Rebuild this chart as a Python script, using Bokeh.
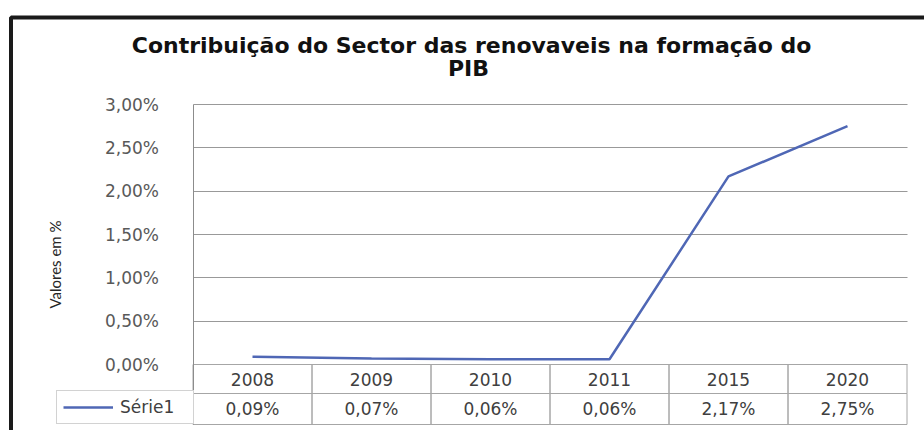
from bokeh.plotting import figure
from bokeh.models import Range1d, FixedTicker, Legend, LegendItem
from bokeh.core.properties import value
from bokeh.embed import file_html
from bokeh.resources import INLINE

# ---- data ----
years = ["2008", "2009", "2010", "2011", "2015", "2020"]
values = [0.09, 0.07, 0.06, 0.06, 2.17, 2.75]
value_labels = ["0,09%", "0,07%", "0,06%", "0,06%", "2,17%", "2,75%"]
y_ticks = [0, 0.5, 1, 1.5, 2, 2.5, 3]
y_tick_labels = ["0,00%", "0,50%", "1,00%", "1,50%", "2,00%", "2,50%", "3,00%"]
series_name = "Série1"
title_lines = ["Contribuição do Sector das renovaveis na formação do", "PIB"]
y_label = "Valores em %"

# ---- pixel <-> data mapping for the full-canvas frame ----
W, H = 924, 430
X0, DX = 252.0, 119.0          # pixel of first category centre, pixels per category
Y0, DY = 364.0, 260.0 / 3.0    # pixel of the zero line, pixels per 1 %


def X(px):
    return (px - X0) / DX


def Y(py):
    return (Y0 - py) / DY


HEADER_BOTTOM = Y(393)
TABLE_BOTTOM = Y(424)

idx = list(range(len(years)))

p = figure(width=W, height=H,
           x_range=Range1d(X(0), X(W)), y_range=Range1d(Y(H), Y(0)),
           x_axis_location=None,
           output_backend="svg", toolbar_location=None,
           min_border=0, min_border_left=0, min_border_right=0,
           min_border_top=0, min_border_bottom=0)
p.background_fill_color = "white"
p.border_fill_color = "white"
p.outline_line_color = None
p.xgrid.visible = False

# outer chart border
p.quad(left=[X(10.5)], right=[X(3000)], top=[Y(17)], bottom=[Y(3000)],
       fill_color=None, line_color="#1a1a1a", line_width=4)

# title
p.text(x=[X(471), X(468)], y=[Y(45), Y(68)], text=title_lines,
       text_align="center", text_baseline="middle",
       text_font=value("DejaVu Sans"), text_font_style="bold",
       text_font_size="22px", text_color="#111111")

# y axis placed at the left edge of the plot area
p.yaxis.fixed_location = -0.5
p.yaxis.bounds = (TABLE_BOTTOM, 3.0)
p.yaxis.ticker = FixedTicker(ticks=y_ticks)
p.yaxis.major_label_overrides = {t: l for t, l in zip(y_ticks, y_tick_labels)}
p.yaxis.axis_line_color = "#8c8c8c"
p.yaxis.major_tick_line_color = None
p.yaxis.minor_tick_line_color = None
p.yaxis.major_label_standoff = 28
p.yaxis.major_label_text_font = "DejaVu Sans"
p.yaxis.major_label_text_font_size = "17px"
p.yaxis.major_label_text_color = "#595959"
p.yaxis.axis_label = y_label
p.yaxis.axis_label_text_font = "Lato"
p.yaxis.axis_label_text_font_size = "15px"
p.yaxis.axis_label_text_font_style = "normal"
p.yaxis.axis_label_text_color = "#262626"
p.yaxis.axis_label_standoff = 38

# horizontal gridlines only across the plot area
p.ygrid.ticker = FixedTicker(ticks=y_ticks)
grid = p.ygrid[0]
if "cross_bounds" in grid.properties():
    grid.cross_bounds = (-0.5, 5.5)
    grid.grid_line_color = "#999999"
else:
    grid.visible = False
    p.segment(x0=[-0.5] * len(y_ticks), x1=[5.5] * len(y_ticks), y0=y_ticks, y1=y_ticks,
              line_color="#999999", line_width=1)

# series line
r = p.line(x=idx, y=values, line_color="#4F67B5", line_width=2.5)

# data table
lefts = [i - 0.5 for i in idx]
rights = [i + 0.5 for i in idx]
p.quad(left=lefts, right=rights, top=[0] * len(idx), bottom=[HEADER_BOTTOM] * len(idx),
       fill_color=None, line_color="#a6a6a6", line_width=1)
p.quad(left=lefts, right=rights, top=[HEADER_BOTTOM] * len(idx), bottom=[TABLE_BOTTOM] * len(idx),
       fill_color=None, line_color="#a6a6a6", line_width=1)
p.text(x=idx, y=[HEADER_BOTTOM / 2] * len(idx), text=years,
       text_align="center", text_baseline="middle",
       text_font=value("DejaVu Sans"), text_font_size="17px", text_color="#404040")
p.text(x=idx, y=[(HEADER_BOTTOM + TABLE_BOTTOM) / 2] * len(idx), text=value_labels,
       text_align="center", text_baseline="middle",
       text_font=value("DejaVu Sans"), text_font_size="17px", text_color="#404040")

# legend key cell of the data table
legend = Legend(items=[LegendItem(label=series_name, renderers=[r])],
                location=(56, H - 424), padding=6, margin=0,
                glyph_width=50, glyph_height=18, label_standoff=7, label_width=67,
                label_text_font="DejaVu Sans", label_text_font_size="17px",
                label_text_color="#404040",
                border_line_color="#a6a6a6", border_line_width=1,
                background_fill_color="white", background_fill_alpha=1)
p.add_layout(legend, "center")

open("out.html", "w").write(file_html(p, INLINE))
